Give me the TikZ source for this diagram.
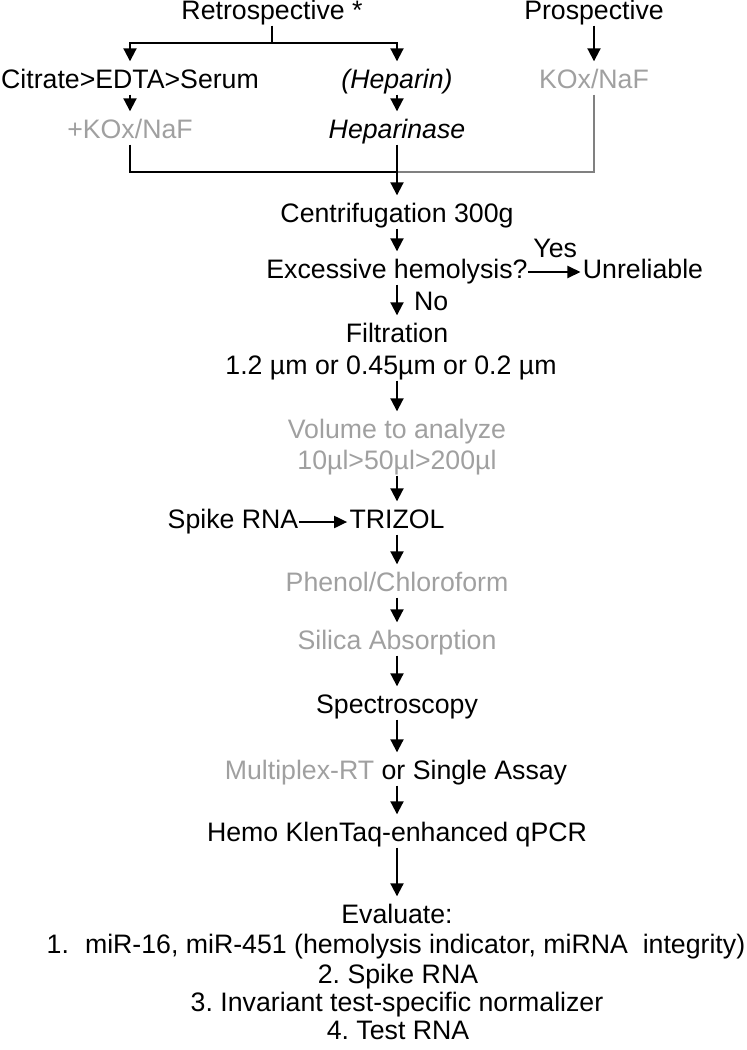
\documentclass[tikz,border=0pt]{standalone}
\usepackage{fontspec}
\setmainfont{Liberation Sans}
\usetikzlibrary{arrows.meta}
\definecolor{lightgrey}{RGB}{160,160,160}
\definecolor{linegrey}{RGB}{128,128,128}
\frenchspacing
\tikzset{
  txt/.style={inner sep=0pt, text height=9.5pt, text depth=2.8pt},
  pale/.style={txt, text=lightgrey},
  flow/.style={line width=1pt, -{Triangle[width=6.5pt,length=6.5pt]}, shorten >=4pt},
  side/.style={line width=1pt, -{Triangle[width=6pt,length=6.5pt]}, shorten >=1pt},
  link/.style={line width=1pt},
}

\begin{document}
\begin{tikzpicture}[x=0.5pt,y=-0.5pt,font=\fontsize{13.35}{16}\selectfont]
\useasboundingbox (0,0) rectangle (746,1050);
\node[txt] (retro) at (272,13) {Retrospective *};
\node[txt] (prosp) at (594,13) {Prospective};
\node[txt] (citrate) at (130,82) {Citrate>EDTA>Serum};
\node[txt] (heparin) at (397,82) {\itshape (Heparin)};
\node[pale] (kox) at (594,82) {KOx/NaF};
\node[pale] (pluskox) at (130,132) {+KOx/NaF};
\node[txt] (heparinase) at (397,132) {\itshape Heparinase};
\node[txt] (centri) at (397,216) {Centrifugation 300g};
\node[txt] (hemol) at (397,272) {Excessive hemolysis?};
\node[txt] (unrel) at (643,272) {Unreliable};
\node[txt] (filtr) at (397,336) {Filtration};
\node[txt] (pore) at (391,368) {1.2 µm or 0.45µm or 0.2 µm};
\node[pale] (vol) at (397,432) {Volume to analyze};
\node[pale] (volsteps) at (397,463) {10µl>50µl>200µl};
\node[txt] (trizol) at (397,522) {TRIZOL};
\node[txt] (spike) at (233,522) {Spike RNA};
\node[pale] (phenol) at (397,585) {Phenol/Chloroform};
\node[pale] (silica) at (397,643) {Silica Absorption};
\node[txt] (spectro) at (397,707) {Spectroscopy};
\node[txt] (assay) at (396,773) {\textcolor{lightgrey}{Multiplex-RT} or Single Assay};
\node[txt] (qpcr) at (397,835) {Hemo KlenTaq-enhanced qPCR};
\node[txt] (eval) at (397,917) {Evaluate:};
\node[txt] (item1) at (396,947) {1.\hspace{0.6em}miR-16, miR-451 (hemolysis indicator, miRNA\ \ integrity)};
\node[txt] (item2) at (398,977) {2. Spike RNA};
\node[txt] (item3) at (397,1005) {3. Invariant test-specific normalizer};
\node[txt] (item4) at (398,1033) {4. Test RNA};

\coordinate (split) at (272,43);
\coordinate (merge) at (397,172);
\draw[link] (retro) -- (split);
\draw[flow] (split) -| (citrate);
\draw[flow] (split) -| (heparin);
\draw[flow] (prosp) -- (kox);
\draw[flow] (citrate) -- (pluskox);
\draw[flow] (heparin) -- (heparinase);
\draw[link,linegrey] (kox) |- (merge);
\draw[link] (pluskox) |- (merge);
\draw[flow] (heparinase) -- (centri);
\draw[flow] (centri) -- (hemol);
\draw[side] (hemol) -- (unrel) node[txt,midway,above=4pt] (yes) {Yes};
\draw[flow] (hemol) -- (filtr) node[txt,midway,right=8pt] (no) {No};
\draw[flow] (pore.south -| filtr) -- (vol);
\draw[flow] (volsteps) -- (trizol);
\draw[side] (spike) -- (trizol);
\draw[flow] (trizol) -- (phenol);
\draw[flow] (phenol) -- (silica);
\draw[flow] (silica) -- (spectro);
\draw[flow] (spectro.south -| qpcr) -- (assay.north -| qpcr);
\draw[flow] (assay.south -| qpcr) -- (qpcr);
\draw[flow] (qpcr) -- (eval);
\end{tikzpicture}
\end{document}
